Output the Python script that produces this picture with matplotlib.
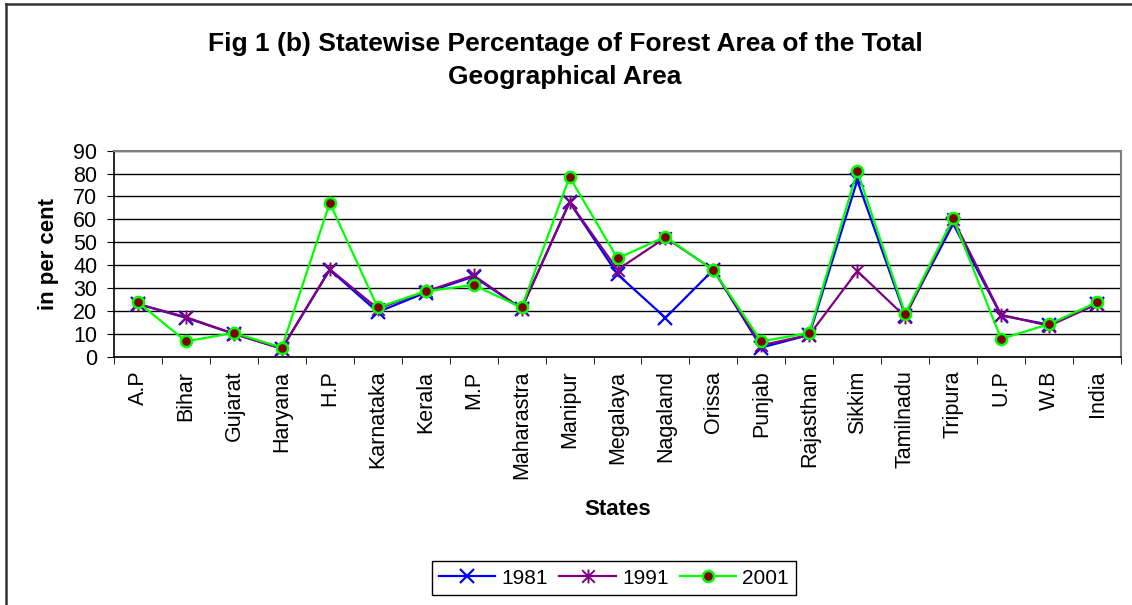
import numpy as np
import matplotlib.pyplot as plt
from matplotlib.path import Path
from matplotlib.lines import Line2D

plt.rcParams['font.family'] = ['Liberation Sans', 'DejaVu Sans']

states = ['A.P', 'Bihar', 'Gujarat', 'Haryana', 'H.P', 'Karnataka', 'Kerala',
          'M.P', 'Maharastra', 'Manipur', 'Megalaya', 'Nagaland', 'Orissa',
          'Punjab', 'Rajasthan', 'Sikkim', 'Tamilnadu', 'Tripura', 'U.P',
          'W.B', 'India']

forest_1981 = [23, 17, 10, 3.5, 38, 19.5, 28, 35, 21, 67.5, 36, 17, 38,
               4, 9.5, 77, 18, 58, 18, 14, 23]
forest_1991 = [23, 17.3, 10, 3.5, 38.2, 21, 28.5, 35.5, 21, 67.5, 38, 52, 38,
               5, 9.5, 37.4, 17.5, 60, 18.3, 13.5, 23]
forest_2001 = [23.8, 6.7, 10.4, 4, 67.2, 21.5, 28.6, 31.3, 21.5, 78.5, 43,
               52.4, 37.8, 6.7, 10.4, 81.2, 18.8, 60.4, 7.8, 14.2, 23.8]

title_lines = ['Fig 1 (b) Statewise Percentage of Forest Area of the Total',
               'Geographical Area']

# asterisk marker: an x with a vertical bar through it
star_path = Path([(-1, -1), (1, 1), (-1, 1), (1, -1), (0, -1.1), (0, 1.1)],
                 [Path.MOVETO, Path.LINETO, Path.MOVETO, Path.LINETO,
                  Path.MOVETO, Path.LINETO])

W, H = 1132, 605
fig = plt.figure(figsize=(W / 100, H / 100), dpi=100)
ax = fig.add_axes([114 / W, 1 - 356.7 / H, 1007 / W, 206 / H])

x = np.arange(len(states))
ax.plot(x, forest_1981, color='#0000FF', lw=1.6, marker='x', ms=10,
        mew=1.6, label='1981', zorder=3)
ax.plot(x, forest_1991, color='#800080', lw=1.6, marker=star_path, ms=10,
        mew=1.4, mfc='none', label='1991', zorder=4)
ax.plot(x, forest_2001, color='#00FF00', lw=1.6, marker='o', ms=8,
        mfc='#800000', mec='#00FF00', mew=1.8, label='2001', zorder=5)

ax.set_xlim(-0.5, len(states) - 0.5)
ax.set_ylim(0, 90)
ax.set_yticks(range(0, 91, 10))
ax.yaxis.grid(True, color='black', lw=1)
ax.set_axisbelow(True)

ax.set_xticks(x)
ax.set_xticklabels(states, rotation=90, fontsize=15.5)
ax.set_xticks(np.arange(-0.5, len(states), 1), minor=True)
ax.tick_params(axis='x', which='major', length=0, pad=10)
ax.tick_params(axis='x', which='minor', length=5, direction='out', color='black')
ax.tick_params(axis='y', length=5, direction='out', labelsize=15.5, pad=7)

for side in ['top', 'right']:
    ax.spines[side].set_color('#808080')
    ax.spines[side].set_linewidth(1.5)
for side in ['left', 'bottom']:
    ax.spines[side].set_color('black')
    ax.spines[side].set_linewidth(1.2)

ax.set_ylabel('in per cent', fontsize=16, fontweight='bold', labelpad=10)
ax.set_xlabel('States', fontsize=16, fontweight='bold', labelpad=14)

fig.text(565 / W, 1 - 44 / H, title_lines[0], ha='center', va='center',
         fontsize=19, fontweight='bold')
fig.text(565 / W, 1 - 77 / H, title_lines[1], ha='center', va='center',
         fontsize=19, fontweight='bold')

ax.legend(loc='center', bbox_to_anchor=(614 / W, 1 - 578 / H),
          bbox_transform=fig.transFigure, ncol=3, fontsize=15,
          frameon=True, fancybox=False, edgecolor='black', framealpha=1,
          handlelength=2.7, handletextpad=0.3, columnspacing=0.55,
          borderpad=0.35, borderaxespad=0)

# outer chart frame
fig.add_artist(Line2D([6 / W, 6 / W], [0, 1 - 4 / H], color='#333333',
                      lw=1.8, transform=fig.transFigure))
fig.add_artist(Line2D([6 / W, 1], [1 - 4 / H, 1 - 4 / H], color='#333333',
                      lw=1.8, transform=fig.transFigure))

fig.savefig('out.png', dpi=100)
